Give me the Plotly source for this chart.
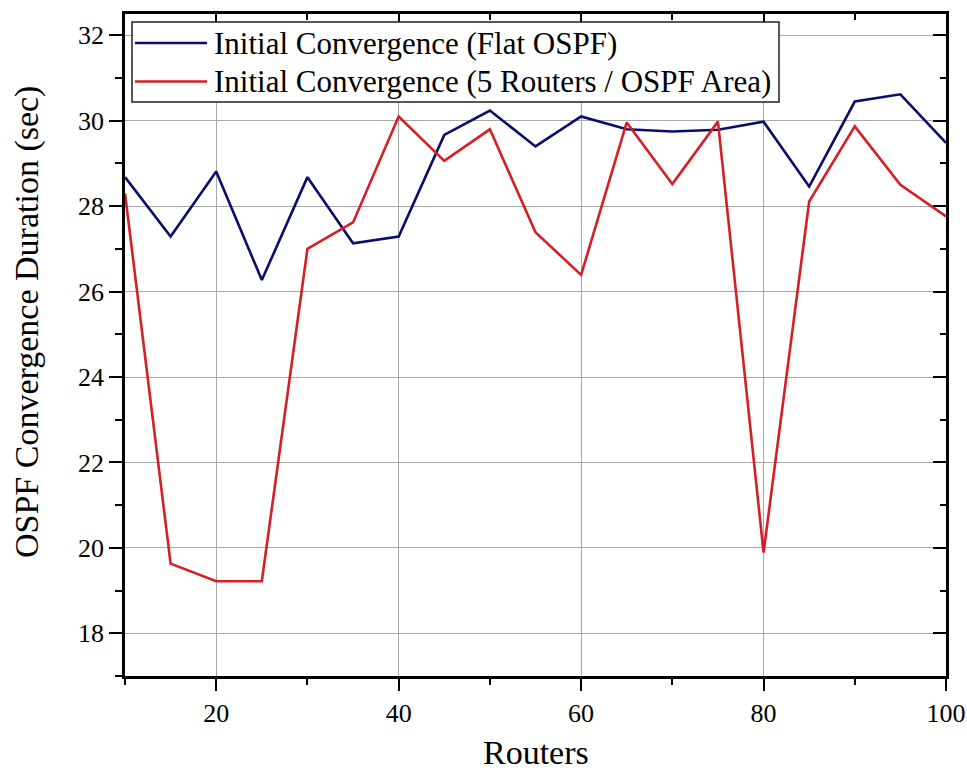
import plotly.graph_objects as go

# Number of routers in the topology
routers = [10, 15, 20, 25, 30, 35, 40, 45, 50, 55, 60, 65, 70, 75, 80, 85, 90, 95, 100]

# Initial convergence time (seconds)
flat_ospf = [28.68, 27.29, 28.81, 26.27, 28.68, 27.13, 27.29, 29.67, 30.24, 29.40,
             30.10, 29.80, 29.75, 29.79, 29.98, 28.46, 30.45, 30.62, 29.48]
area_ospf = [28.30, 19.63, 19.22, 19.22, 27.00, 27.62, 30.10, 29.06, 29.80, 27.39,
             26.39, 29.96, 28.52, 29.98, 19.89, 28.11, 29.87, 28.50, 27.76]

series_names = ["Initial Convergence (Flat OSPF)",
                "Initial Convergence (5 Routers / OSPF Area)"]
series_colors = ["#0c0c6c", "#d41f26"]

x_ticks = [20, 40, 60, 80, 100]
y_ticks = [18, 20, 22, 24, 26, 28, 30, 32]
x_range = [10, 100]
y_range = [17, 32.5]

FONT = "Liberation Serif, Times New Roman, serif"

W, H = 967, 774
L, R, T, B = 125, 21, 14, 98
PW, PH = W - L - R, H - T - B


def px_x(p):
    return (p - L) / PW


def px_y(p):
    return (H - B - p) / PH


fig = go.Figure()
for ys, name, col in zip([flat_ospf, area_ospf], series_names, series_colors):
    fig.add_trace(go.Scatter(x=routers, y=ys, mode="lines", name=name,
                             line=dict(color=col, width=2.6), showlegend=False))

axis_common = dict(showline=True, linecolor="black", linewidth=2.6, mirror=True,
                   tickcolor="black", tickwidth=2.4, zeroline=False, automargin=False,
                   tickfont=dict(family=FONT, size=26, color="black"),
                   showgrid=True, gridcolor="#a8a8a8", gridwidth=1)

fig.update_layout(
    width=W, height=H,
    margin=dict(l=L, r=R, t=T, b=B, autoexpand=False),
    paper_bgcolor="white", plot_bgcolor="white",
    xaxis=dict(range=x_range, tickvals=x_ticks, ticks="outside", ticklen=12,
               minor=dict(dtick=10, tick0=0, ticks="outside", ticklen=6,
                          tickwidth=2.4, tickcolor="black", showgrid=False),
               **axis_common),
    yaxis=dict(range=y_range, tickvals=y_ticks, ticks="outside", ticklen=13,
               minor=dict(dtick=2, tick0=17, ticks="outside", ticklen=7,
                          tickwidth=2.4, tickcolor="black", showgrid=False),
               **axis_common),
    # mirrored axes carrying the inward ticks on the top and right edges
    xaxis2=dict(range=x_range, overlaying="x", side="top", anchor="y",
                tickvals=x_ticks, ticks="inside", ticklen=11, tickwidth=2.2,
                tickcolor="black", showticklabels=False, showgrid=False,
                showline=False, zeroline=False, automargin=False,
                minor=dict(dtick=10, tick0=0, ticks="inside", ticklen=6,
                           tickwidth=2.2, tickcolor="black")),
    yaxis2=dict(range=y_range, overlaying="y", side="right", anchor="x",
                tickvals=y_ticks, ticks="inside", ticklen=13, tickwidth=2.2,
                tickcolor="black", showticklabels=False, showgrid=False,
                showline=False, zeroline=False, automargin=False,
                minor=dict(dtick=2, tick0=17, ticks="inside", ticklen=6,
                           tickwidth=2.2, tickcolor="black")),
)

# invisible trace so the mirrored axes are laid out
fig.add_trace(go.Scatter(x=[routers[0]], y=[flat_ospf[0]], xaxis="x2", yaxis="y2",
                         mode="markers", marker=dict(opacity=0), showlegend=False,
                         hoverinfo="skip"))

# axis titles
fig.add_annotation(text="Routers", xref="paper", yref="paper",
                   x=0.5, y=px_y(773), xanchor="center", yanchor="bottom",
                   showarrow=False, font=dict(family=FONT, size=34, color="black"))
fig.add_annotation(text="OSPF Convergence Duration (sec)", xref="paper", yref="paper",
                   x=px_x(27), y=px_y(322), xanchor="center", yanchor="middle",
                   textangle=-90, showarrow=False,
                   font=dict(family=FONT, size=34, color="black"))

# legend box
fig.add_shape(type="rect", xref="paper", yref="paper",
              x0=px_x(132), x1=px_x(779), y0=px_y(102), y1=px_y(22),
              line=dict(color="#202020", width=1.5), fillcolor="white", layer="above")
for name, col, py in zip(series_names, series_colors, [43, 81.5]):
    fig.add_shape(type="line", xref="paper", yref="paper",
                  x0=px_x(135), x1=px_x(207), y0=px_y(py), y1=px_y(py),
                  line=dict(color=col, width=2.6), layer="above")
    fig.add_annotation(text=name, xref="paper", yref="paper",
                       x=px_x(212), y=px_y(py), xanchor="left", yanchor="middle",
                       showarrow=False, font=dict(family=FONT, size=31, color="black"))

fig.write_html("out.html")
